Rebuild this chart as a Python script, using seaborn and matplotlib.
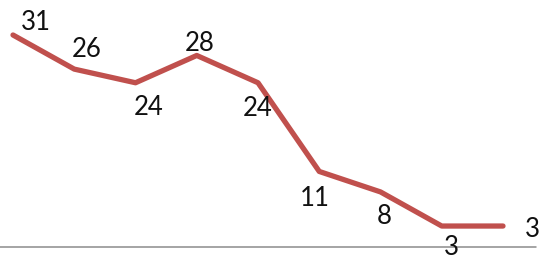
import numpy as np
import pandas as pd
import matplotlib
matplotlib.use("Agg")
import matplotlib.pyplot as plt
import seaborn as sns

# values
points = list(range(1, 10))
values = [31, 26, 24, 28, 24, 11, 8, 3, 3]

# label offsets in pixels (dx right, dy down) - Excel-like placement
label_offsets = [(23, -12), (12, -20), (13, 25), (3, -12), (0, 26),
                 (-4, 27), (4, 25), (10, 21), (29, 3)]

DPI = 100
sns.set_theme(style="white")
plt.rcParams['font.family'] = ['Lato', 'DejaVu Sans']

df = pd.DataFrame({"point": points, "value": values})

fig = plt.figure(figsize=(5.39, 2.57), dpi=DPI)
ax = fig.add_axes([0, 0, 1, 1])

sns.lineplot(data=df, x="point", y="value", ax=ax, color="#C0504D",
             linewidth=3.8, solid_capstyle="round", solid_joinstyle="round")

ax.axhline(0, xmin=0, xmax=0.995, color="#8c8c8c", linewidth=1.1, zorder=1)

# pixel mapping: point 1 -> x=13px, point 9 -> x=503px ; value 0 -> 246.5px from top
px_per_x = (503 - 13) / 8
ax.set_xlim(1 - 13 / px_per_x, 9 + (539 - 503) / px_per_x)
px_per_y = (246.5 - 35) / 31
ax.set_ylim(-(257 - 246.5) / px_per_y, 246.5 / px_per_y)

for p, v, (dx, dy) in zip(points, values, label_offsets):
    ax.annotate(str(v), (p, v), xytext=(dx * 72 / DPI, -dy * 72 / DPI),
                textcoords="offset points", ha="center", va="center",
                fontsize=18.5, color="#111111")

ax.axis("off")
fig.savefig("out.png", dpi=DPI)
